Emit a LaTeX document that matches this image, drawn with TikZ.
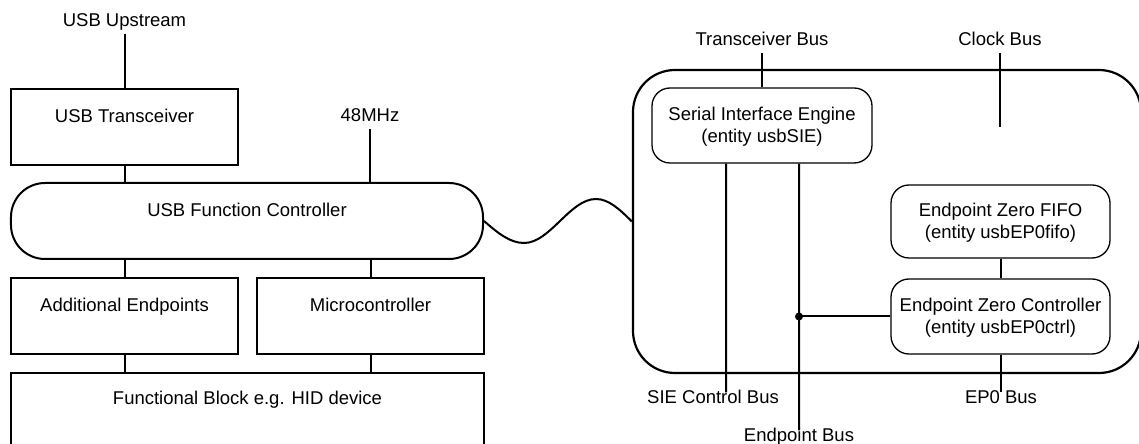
\documentclass[tikz,border=0pt]{standalone}
\usepackage{fontspec}
\setmainfont{Liberation Sans}
\begin{document}
\begin{tikzpicture}[x=1bp,y=-1bp,
  every node/.style={font=\fontsize{18.5bp}{22bp}\selectfont},
  box/.style={draw, line width=2bp, minimum width=227bp, minimum height=76bp, inner sep=0pt, align=center, text height=14bp, text depth=23.5bp},
  rbox/.style={draw, line width=1.3bp, rounded corners=18bp, minimum width=219bp, minimum height=75bp, inner sep=0pt, align=center, text height=39bp, text depth=4bp},
  toplbl/.style={anchor=base, inner sep=3bp, text height=14bp, text depth=4bp},
  botlbl/.style={anchor=base, inner sep=0pt, text height=11bp, text depth=4bp},
  wire/.style={line width=2bp}
]
\useasboundingbox (0,0) rectangle (1139,444);
\clip (0,0) rectangle (1139,444);

% left side blocks
\node[box] (trans) at (124.5,127) {USB Transceiver};
\node[box, rounded corners=34bp, minimum width=472bp] (ufc) at (247,221) {USB Function Controller};
\node[box] (addep) at (124.5,316) {Additional Endpoints};
\node[box] (micro) at (370.5,316) {Microcontroller};
\node[box, minimum width=473bp, minimum height=73bp] (fb) at (247.5,409.5) {Functional Block e.g. HID device};

% right side
\node[draw, line width=2.2bp, rounded corners=42bp, minimum width=508bp, minimum height=303bp] (big) at (887,221.5) {};
\node[rbox, minimum width=220bp] (sie) at (762,125.5) {Serial Interface Engine\\(entity usbSIE)};
\node[rbox, minimum height=73bp] (fifo) at (1000.5,221.5) {Endpoint Zero FIFO\\(entity usbEP0fifo)};
\node[rbox] (ctrl) at (1000.5,316.5) {Endpoint Zero Controller\\(entity usbEP0ctrl)};

% labels
\node[toplbl] (up) at (124.5,26.6) {USB Upstream};
\node[toplbl] (mhz) at (370,121.6) {48MHz};
\node[toplbl] (tbus) at (762,45.6) {Transceiver Bus};
\node[toplbl] (cbus) at (1000,45.6) {Clock Bus};
\node[botlbl] (siec) at (713,403.6) {SIE Control Bus};
\node[botlbl] (epb) at (799,441.6) {Endpoint Bus};
\node[botlbl] (ep0) at (1001,403.6) {EP0 Bus};

% connectors
\draw[wire] (up.south) -- (trans.north);
\draw[wire] (trans.south) -- (trans.south |- ufc.north);
\draw[wire] (mhz.south) -- (mhz.south |- ufc.north);
\draw[wire] (addep.north |- ufc.south) -- (addep.north);
\draw[wire] (micro.north |- ufc.south) -- (micro.north);
\draw[wire] (addep.south) -- (addep.south |- fb.north);
\draw[wire] (micro.south) -- (micro.south |- fb.north);
\draw[wire] (ufc.east) sin ++(40,22) cos ++(36,-22) sin ++(36,-22) cos (big.west);

\draw[wire] (tbus.south) -- (sie.north);
\coordinate (clkend) at (1000,127);
\draw[wire] (cbus.south) -- (clkend);
\draw[wire] ([xshift=-36bp]sie.south) -- ([xshift=13bp]siec.north);
\draw[wire] ([xshift=37bp]sie.south) -- (epb.north);
\draw[wire] (fifo.south) -- (ctrl.north);
\draw[wire] (ctrl.south) -- (ctrl.south |- ep0.north);
\coordinate (j) at (epb.north |- ctrl.west);
\draw[wire] (j) -- (ctrl.west);
\fill (j) circle (4bp);
\end{tikzpicture}
\end{document}
